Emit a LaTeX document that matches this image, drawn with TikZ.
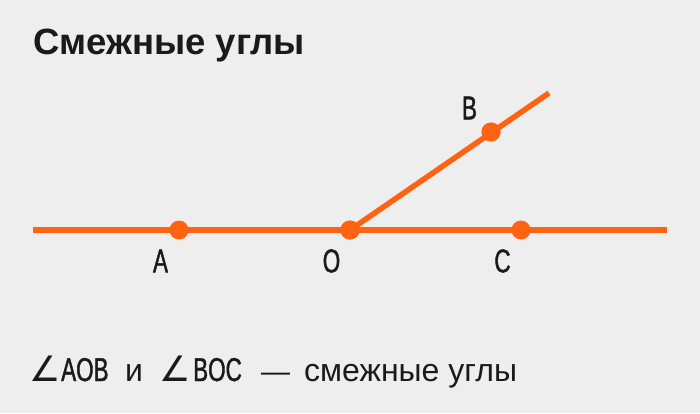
\documentclass[tikz,border=0pt]{standalone}
\usepackage{fontspec}
\setmainfont{Liberation Sans}
\newfontfamily\condfont[FakeStretch=0.68, FakeBold=1.2]{Liberation Sans}
\newfontfamily\symfont{DejaVu Sans}
\definecolor{bgcol}{HTML}{EEEEEE}
\definecolor{linecol}{HTML}{FF6210}
\definecolor{textcol}{HTML}{1A1A1A}

\tikzset{
  ray/.style={draw=linecol, line width=5.5pt},
  dot/.style={circle, fill=linecol, inner sep=0pt, minimum size=19pt},
  lbl/.style={inner sep=0pt, text=textcol, font=\condfont\fontsize{33}{33}\selectfont},
  bottomtxt/.style={inner sep=0pt, anchor=base west, text=textcol, font=\fontsize{32}{32}\selectfont}
}

\begin{document}
\begin{tikzpicture}[x=1pt, y=-1pt]
		\fill[bgcol] (0,0) rectangle (700,413);
		% title
		\node[inner sep=0pt, anchor=base west, text=textcol, font=\bfseries\fontsize{36.5}{36.5}\selectfont] (title) at (33,54) {Смежные углы};
		% lines
		\coordinate (left) at (33,230);
		\coordinate (right) at (667,230);
		\coordinate (rayend) at (549,93);
		\draw[ray] (left) -- (right);
		\node[dot] (A) at (179,230) {};
		\node[dot] (O) at (350,230) {};
		\node[dot] (C) at (521,230) {};
		\node[dot] (B) at (491,132) {};
		\draw[ray] (O.center) -- (rayend);
		\node[dot] at (O) {};
		\node[dot] at (B) {};
		% labels
		\node[lbl] (labelA) at (160.5,261) {A};
		\node[lbl] (labelO) at (331.5,261) {O};
		\node[lbl] (labelC) at (502.5,261) {C};
		\node[lbl] (labelB) at (469.5,108) {B};
		% caption
		\node[bottomtxt, font=\symfont\fontsize{35}{35}\selectfont] (ang1) at (29,381) {∠};
		\node[bottomtxt, font=\condfont\fontsize{33}{33}\selectfont] (aob) at (61,381) {AOB};
		\node[bottomtxt] (and) at (125,381) {и};
		\node[bottomtxt, font=\symfont\fontsize{35}{35}\selectfont] (ang2) at (159,381) {∠};
		\node[bottomtxt, font=\condfont\fontsize{33}{33}\selectfont] (boc) at (193,381) {BOC};
		\node[bottomtxt, font=\fontsize{29}{29}\selectfont] (dash) at (261,381) {—};
		\node[bottomtxt] (caption) at (304,381) {смежные углы};
	\end{tikzpicture}
\end{document}
